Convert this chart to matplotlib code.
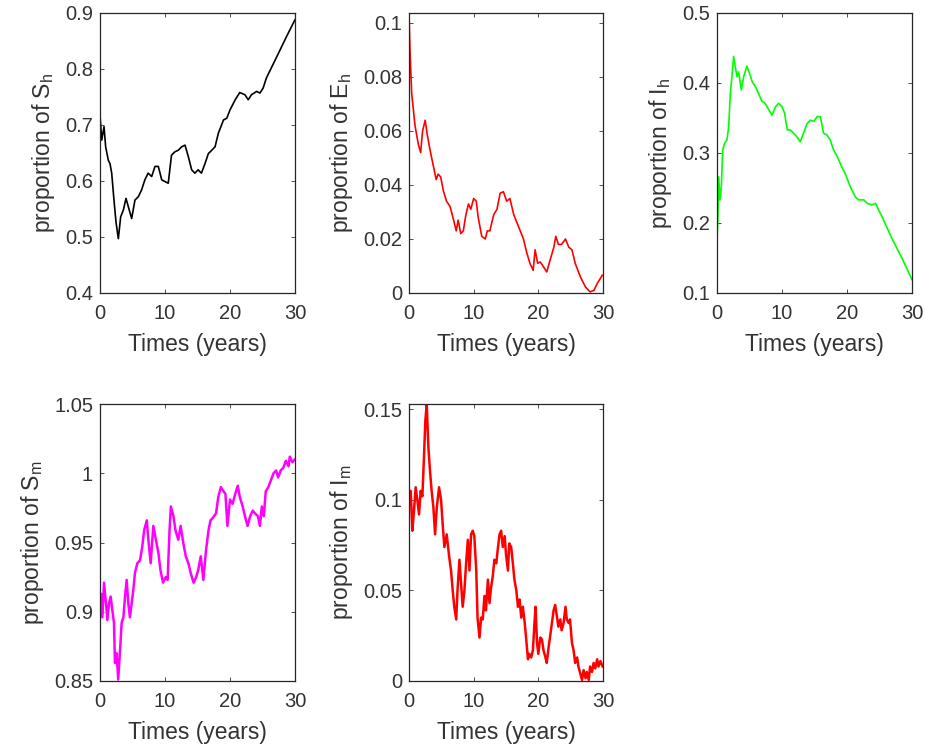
import matplotlib.pyplot as plt
import numpy as np

plt.rcParams['font.family'] = ['Liberation Sans', 'DejaVu Sans']
plt.rcParams['mathtext.fontset'] = 'custom'
plt.rcParams['mathtext.rm'] = 'Liberation Sans'

# proportion of S_h
t_sh = [0, 0.26, 0.62, 0.87, 1.28, 1.54, 1.8, 2.15, 2.46, 2.82, 3.18, 3.59, 4.0, 4.36,
        4.87, 5.38, 5.9, 6.4, 6.9, 7.4, 7.95, 8.46, 8.97, 9.5, 10.0, 10.5, 11.0, 11.5,
        12.05, 12.56, 13.08, 13.6, 14.1, 14.6, 15.1, 15.6, 16.15, 16.67, 17.2, 17.7,
        18.2, 19.0, 19.5, 20.0, 20.8, 21.5, 22.3, 22.8, 23.3, 24.1, 24.6, 25.1, 25.6,
        27.2, 28.7, 30]
sh = [0.718, 0.673, 0.697, 0.661, 0.637, 0.631, 0.614, 0.566, 0.527, 0.497, 0.536,
      0.548, 0.569, 0.554, 0.533, 0.566, 0.572, 0.584, 0.602, 0.614, 0.608, 0.626,
      0.626, 0.602, 0.599, 0.596, 0.646, 0.652, 0.655, 0.661, 0.664, 0.643, 0.620,
      0.614, 0.620, 0.614, 0.631, 0.649, 0.655, 0.661, 0.685, 0.709, 0.712, 0.727,
      0.745, 0.758, 0.754, 0.745, 0.754, 0.760, 0.757, 0.766, 0.784, 0.822, 0.858,
      0.888]

# proportion of E_h
t_eh = [0, 0.15, 0.41, 0.67, 0.93, 1.45, 1.8, 2.1, 2.5, 2.8, 3.25, 3.77, 4.2, 4.5, 4.9,
        5.3, 5.8, 6.35, 6.9, 7.3, 7.6, 8.0, 8.4, 8.8, 9.2, 9.55, 10.0, 10.4, 10.7,
        11.25, 11.8, 12.1, 12.5, 13.1, 13.6, 14.1, 14.6, 15.1, 15.6, 16.2, 16.7, 17.2,
        17.7, 18.2, 18.7, 19.2, 19.5, 19.9, 20.3, 20.8, 21.3, 21.8, 22.4, 22.7, 23.1,
        23.6, 24.2, 24.7, 25.2, 25.7, 26.5, 27.3, 28.0, 28.6, 29.1, 29.9]
eh = [0.1037, 0.090, 0.074, 0.068, 0.062, 0.055, 0.052, 0.060, 0.064, 0.059, 0.053,
      0.047, 0.042, 0.044, 0.043, 0.038, 0.034, 0.032, 0.027, 0.023, 0.027, 0.022,
      0.023, 0.029, 0.033, 0.031, 0.035, 0.034, 0.028, 0.021, 0.020, 0.023, 0.023,
      0.029, 0.031, 0.037, 0.0375, 0.034, 0.035, 0.029, 0.026, 0.023, 0.020, 0.015,
      0.011, 0.0084, 0.016, 0.011, 0.0115, 0.0097, 0.0078, 0.012, 0.017, 0.021, 0.018,
      0.018, 0.020, 0.017, 0.016, 0.011, 0.006, 0.0022, 0.0004, 0.001, 0.0035, 0.0066]

# proportion of I_h
t_ih = [0, 0.15, 0.26, 0.46, 0.67, 0.87, 1.18, 1.54, 1.8, 2.05, 2.3, 2.56, 2.8, 3.08,
        3.33, 3.74, 4.1, 4.6, 5.0, 5.4, 5.9, 6.4, 6.9, 7.4, 7.95, 8.46, 9.0, 9.5, 10.0,
        10.4, 10.8, 11.3, 11.8, 12.3, 12.8, 13.3, 13.85, 14.4, 14.9, 15.4, 15.9, 16.4,
        16.9, 17.4, 17.95, 18.5, 19.2, 19.7, 20.5, 21.3, 21.8, 22.6, 23.1, 23.85, 24.4,
        24.9, 25.4, 26.9, 28.5, 30]
ih = [0.175, 0.209, 0.266, 0.233, 0.252, 0.304, 0.314, 0.319, 0.338, 0.385, 0.409,
      0.438, 0.424, 0.409, 0.416, 0.390, 0.409, 0.424, 0.414, 0.402, 0.395, 0.385,
      0.374, 0.371, 0.362, 0.354, 0.366, 0.371, 0.366, 0.357, 0.333, 0.333, 0.328,
      0.323, 0.316, 0.328, 0.342, 0.347, 0.345, 0.352, 0.352, 0.328, 0.326, 0.319,
      0.304, 0.295, 0.280, 0.271, 0.252, 0.237, 0.233, 0.233, 0.228, 0.226, 0.228,
      0.218, 0.209, 0.178, 0.149, 0.119]

# proportion of S_m
t_sm = [0, 0.15, 0.36, 0.62, 0.92, 1.13, 1.38, 1.64, 1.9, 2.15, 2.3, 2.56, 2.8, 3.08,
        3.33, 3.6, 3.85, 4.1, 4.36, 4.6, 4.87, 5.13, 5.38, 5.74, 6.15, 6.5, 6.8, 7.2,
        7.44, 7.8, 8.2, 8.6, 9.0, 9.3, 9.7, 10.1, 10.4, 10.7, 10.9, 11.3, 11.6, 12.05,
        12.4, 12.8, 13.2, 13.6, 13.95, 14.4, 14.8, 15.1, 15.5, 15.9, 16.3, 16.7, 17.0,
        17.4, 17.85, 18.2, 18.6, 19.0, 19.3, 19.6, 20.0, 20.4, 20.8, 21.2, 21.5, 21.95,
        22.3, 22.7, 23.1, 23.5, 23.85, 24.3, 24.6, 24.9, 25.2, 25.5, 25.9, 26.3, 26.7,
        27.1, 27.4, 27.8, 28.2, 28.6, 29.0, 29.2, 29.6, 30]
sm = [0.906, 0.913, 0.896, 0.921, 0.906, 0.894, 0.906, 0.911, 0.901, 0.892, 0.863,
      0.870, 0.851, 0.872, 0.892, 0.896, 0.911, 0.923, 0.906, 0.896, 0.906, 0.916,
      0.928, 0.935, 0.937, 0.947, 0.959, 0.966, 0.952, 0.935, 0.962, 0.952, 0.942,
      0.930, 0.921, 0.925, 0.923, 0.959, 0.976, 0.969, 0.959, 0.952, 0.962, 0.950,
      0.940, 0.935, 0.928, 0.921, 0.925, 0.930, 0.940, 0.923, 0.944, 0.959, 0.966,
      0.968, 0.971, 0.983, 0.990, 0.987, 0.985, 0.962, 0.981, 0.978, 0.985, 0.991,
      0.983, 0.976, 0.969, 0.962, 0.969, 0.973, 0.971, 0.969, 0.962, 0.976, 0.969,
      0.987, 0.990, 0.995, 1.000, 1.002, 0.997, 1.002, 1.004, 1.009, 1.005, 1.012,
      1.008, 1.010]

# proportion of I_m
t_im = [0, 0.26, 0.52, 0.77, 1.03, 1.29, 1.55, 1.8, 2.07, 2.32, 2.53, 2.74, 3.0, 3.25,
        3.5, 3.77, 4.03, 4.3, 4.65, 4.96, 5.2, 5.47, 5.83, 6.2, 6.5, 6.76, 7.0, 7.3,
        7.5, 7.8, 8.05, 8.3, 8.57, 8.83, 9.1, 9.35, 9.6, 9.86, 10.1, 10.4, 10.6, 10.9,
        11.15, 11.4, 11.67, 11.9, 12.2, 12.45, 12.7, 12.96, 13.2, 13.5, 13.7, 14.0,
        14.25, 14.5, 14.8, 15.0, 15.3, 15.5, 15.8, 16.06, 16.3, 16.6, 16.85, 17.1,
        17.36, 17.6, 17.9, 18.1, 18.4, 18.6, 18.9, 19.16, 19.4, 19.57, 19.8, 20.0,
        20.3, 20.55, 20.8, 21.1, 21.3, 21.6, 21.8, 22.1, 22.36, 22.6, 22.9, 23.1, 23.4,
        23.6, 23.9, 24.2, 24.4, 24.7, 24.9, 25.2, 25.45, 25.7, 26.0, 26.2, 26.5, 26.75,
        27.0, 27.3, 27.5, 27.8, 28.0, 28.3, 28.55, 28.8, 29.1, 29.3, 29.6, 29.95]
im = [0.098, 0.105, 0.083, 0.094, 0.107, 0.100, 0.092, 0.105, 0.102, 0.124, 0.144,
      0.153, 0.129, 0.116, 0.105, 0.096, 0.081, 0.096, 0.107, 0.100, 0.087, 0.074,
      0.081, 0.069, 0.061, 0.050, 0.041, 0.034, 0.050, 0.067, 0.054, 0.041, 0.050,
      0.065, 0.078, 0.061, 0.081, 0.083, 0.080, 0.061, 0.035, 0.024, 0.035, 0.034,
      0.047, 0.039, 0.056, 0.043, 0.052, 0.058, 0.067, 0.065, 0.072, 0.081, 0.083,
      0.074, 0.080, 0.070, 0.061, 0.076, 0.074, 0.065, 0.056, 0.050, 0.041, 0.045,
      0.035, 0.041, 0.032, 0.024, 0.012, 0.015, 0.013, 0.017, 0.032, 0.041, 0.021,
      0.015, 0.024, 0.023, 0.017, 0.013, 0.010, 0.019, 0.024, 0.032, 0.039, 0.042,
      0.035, 0.030, 0.034, 0.028, 0.032, 0.041, 0.034, 0.032, 0.034, 0.021, 0.017,
      0.010, 0.013, 0.008, 0.004, 0.0006, 0.006, 0.0015, 0.005, 0.0006, 0.008, 0.005,
      0.010, 0.007, 0.012, 0.008, 0.011, 0.008]

W, H = 925, 751
fig = plt.figure(figsize=(W / 100, H / 100), dpi=100)
txt = '#333333'


def panel(left, right, top, bottom, t, y, color, lw, ylim, yticks, ylabel):
    ax = fig.add_axes([left / W, 1 - bottom / H, (right - left) / W, (bottom - top) / H])
    ax.plot(t, y, color=color, lw=lw)
    ax.set_xlim(0, 30)
    ax.set_ylim(*ylim)
    ax.set_xticks([0, 10, 20, 30])
    ax.set_yticks(yticks)
    ax.set_yticklabels([('%g' % v) for v in yticks])
    ax.tick_params(direction='in', top=True, right=True, length=3, width=0.6,
                   labelsize=14.5, colors=txt)
    ax.tick_params(axis='x', pad=8)
    ax.tick_params(axis='y', pad=5)
    for s in ax.spines.values():
        s.set_linewidth(0.9)
        s.set_color('#262626')
    ax.set_xlabel('Times (years)', fontsize=16.5, color=txt, labelpad=7)
    ax.set_ylabel(ylabel, fontsize=16.5, color=txt, labelpad=6)
    return ax


panel(100, 295, 13, 293, t_sh, sh, 'black', 1.2, (0.4, 0.9),
      [0.4, 0.5, 0.6, 0.7, 0.8, 0.9], r'proportion of S$_\mathregular{h}$')
panel(409, 603, 13, 293, t_eh, eh, 'red', 1.2, (0, 0.1037),
      [0, 0.02, 0.04, 0.06, 0.08, 0.1], r'proportion of E$_\mathregular{h}$')
panel(717, 912, 13, 293, t_ih, ih, '#00ff00', 1.2, (0.1, 0.5),
      [0.1, 0.2, 0.3, 0.4, 0.5], r'proportion of I$_\mathregular{h}$')
panel(100, 295, 404, 681, t_sm, sm, 'magenta', 1.8, (0.85, 1.05),
      [0.85, 0.9, 0.95, 1.0, 1.05], r'proportion of S$_\mathregular{m}$')
panel(409, 603, 404, 681, t_im, im, 'red', 1.8, (0, 0.153),
      [0, 0.05, 0.1, 0.15], r'proportion of I$_\mathregular{m}$')

fig.savefig('out.png', dpi=100)
